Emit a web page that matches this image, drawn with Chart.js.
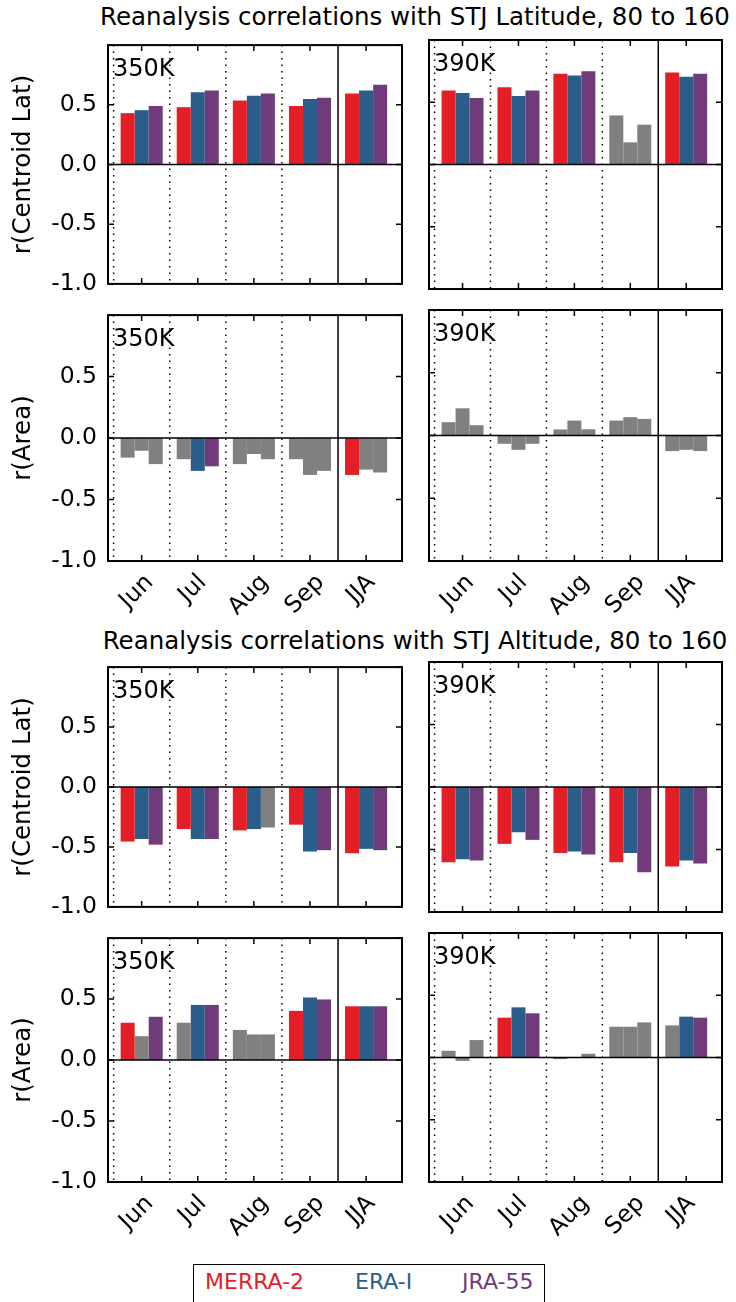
<!DOCTYPE html>
<html>
<head>
<meta charset="utf-8">
<script src="https://cdn.jsdelivr.net/npm/chart.js@4.4.1/dist/chart.umd.min.js"></script>
<style>
  body { margin: 0; width: 736px; height: 1302px; overflow: hidden; background: #fff; position: relative; font-family: "DejaVu Sans", sans-serif; }
  canvas { position: absolute; }
  .figtitle { position: absolute; left: 415px; transform: translateX(-50%); white-space: nowrap; font-size: 24.5px; line-height: 30px; color: #000; }
  #legend { position: absolute; left: 193px; top: 1264px; width: 352px; height: 60px; border: 1.5px solid #000; box-sizing: border-box; }
  .legtext { position: absolute; font-size: 22px; line-height: 26px; top: 1269px; white-space: nowrap; }
</style>
</head>
<body>
<div class="figtitle" style="top:2px">Reanalysis correlations with STJ Latitude, 80 to 160</div>
<div class="figtitle" style="top:626px">Reanalysis correlations with STJ Altitude, 80 to 160</div>
<div id="legend"></div>

<script>
// categories and series
const months = ["Jun", "Jul", "Aug", "Sep", "JJA"];
const names = ["MERRA-2", "ERA-I", "JRA-55"];
const yTickValues = [-1.0, -0.5, 0.0, 0.5];
const yTickLabels = ["-1.0", "-0.5", "0.0", "0.5"];

// STJ latitude, centroid latitude
const latCen350Merra = [0.43, 0.48, 0.535, 0.49, 0.595];
const latCen350Era   = [0.455, 0.605, 0.575, 0.548, 0.62];
const latCen350Jra   = [0.49, 0.62, 0.595, 0.56, 0.667];
const latCen350Sig   = [[1, 1, 1, 1, 1], [1, 1, 1, 1, 1], [1, 1, 1, 1, 1]];

const latCen390Merra = [0.595, 0.62, 0.728, 0.394, 0.738];
const latCen390Era   = [0.575, 0.55, 0.714, 0.178, 0.704];
const latCen390Jra   = [0.535, 0.595, 0.749, 0.32, 0.728];
const latCen390Sig   = [[1, 1, 1, 0, 1], [1, 1, 1, 0, 1], [1, 1, 1, 0, 1]];

// STJ latitude, area
const latArea350Merra = [-0.159, -0.172, -0.212, -0.172, -0.30];
const latArea350Era   = [-0.103, -0.267, -0.13, -0.30, -0.257];
const latArea350Jra   = [-0.212, -0.23, -0.172, -0.267, -0.28];
const latArea350Sig   = [[0, 0, 0, 0, 1], [0, 1, 0, 0, 0], [0, 1, 0, 0, 0]];

const latArea390Merra = [0.106, -0.066, 0.048, 0.119, -0.124];
const latArea390Era   = [0.217, -0.114, 0.119, 0.146, -0.114];
const latArea390Jra   = [0.082, -0.066, 0.05, 0.132, -0.124];
const latArea390Sig   = [[0, 0, 0, 0, 0], [0, 0, 0, 0, 0], [0, 0, 0, 0, 0]];

// STJ altitude, centroid latitude
const altCen350Merra = [-0.455, -0.351, -0.362, -0.314, -0.553];
const altCen350Era   = [-0.434, -0.434, -0.351, -0.537, -0.516];
const altCen350Jra   = [-0.481, -0.434, -0.338, -0.527, -0.527];
const altCen350Sig   = [[1, 1, 1, 1, 1], [1, 1, 1, 1, 1], [1, 1, 0, 1, 1]];

const altCen390Merra = [-0.601, -0.455, -0.527, -0.601, -0.636];
const altCen390Era   = [-0.577, -0.362, -0.516, -0.527, -0.588];
const altCen390Jra   = [-0.588, -0.423, -0.54, -0.681, -0.612];
const altCen390Sig   = [[1, 1, 1, 1, 1], [1, 1, 1, 1, 1], [1, 1, 1, 1, 1]];

// STJ altitude, area
const altArea350Merra = [0.306, 0.306, 0.247, 0.403, 0.441];
const altArea350Era   = [0.196, 0.452, 0.21, 0.513, 0.441];
const altArea350Jra   = [0.355, 0.452, 0.21, 0.497, 0.441];
const altArea350Sig   = [[1, 0, 0, 1, 1], [0, 1, 0, 1, 1], [1, 1, 0, 1, 1]];

const altArea390Merra = [0.054, 0.32, -0.013, 0.247, 0.258];
const altArea390Era   = [-0.027, 0.403, 0.004, 0.247, 0.328];
const altArea390Jra   = [0.14, 0.355, 0.03, 0.282, 0.32];
const altArea390Sig   = [[0, 1, 0, 0, 0], [0, 1, 0, 0, 1], [0, 1, 0, 0, 1]];

const colors = ["#e41e26", "#2b5d8a", "#713b7b"];
const gray = "#808080";
const FONT = '"DejaVu Sans"';
Chart.defaults.font.family = FONT;

// legend
names.forEach((n, k) => {
  const s = document.createElement("span");
  s.className = "legtext";
  s.style.left = [205, 355, 462][k] + "px";
  s.style.color = colors[k];
  s.textContent = n;
  document.body.appendChild(s);
});

const panelDecor = {
  id: "panelDecor",
  beforeDatasetsDraw(chart) {
    const { ctx, chartArea: a, scales: { x } } = chart;
    ctx.save();
    ctx.strokeStyle = "#000";
    ctx.lineWidth = 1.5;
    ctx.setLineDash([1.5, 5]);
    [-0.5, 0.5, 1.5, 2.5].forEach(v => {
      const px = x.getPixelForValue(v);
      ctx.beginPath(); ctx.moveTo(px, a.top); ctx.lineTo(px, a.bottom); ctx.stroke();
    });
    ctx.restore();
  },
  afterDatasetsDraw(chart, args, opts) {
    const { ctx, chartArea: a, scales: { x, y } } = chart;
    ctx.save();
    ctx.strokeStyle = "#000";
    ctx.lineWidth = 1.5;
    // zero line and JJA separator
    const y0 = y.getPixelForValue(0);
    ctx.beginPath(); ctx.moveTo(a.left, y0); ctx.lineTo(a.right, y0); ctx.stroke();
    const xs = x.getPixelForValue(3.5);
    ctx.beginPath(); ctx.moveTo(xs, a.top); ctx.lineTo(xs, a.bottom); ctx.stroke();
    // inward ticks
    const tl = 6;
    months.forEach((m, i) => {
      const px = x.getPixelForValue(i);
      ctx.beginPath();
      ctx.moveTo(px, a.top); ctx.lineTo(px, a.top + tl);
      ctx.moveTo(px, a.bottom); ctx.lineTo(px, a.bottom - tl);
      ctx.stroke();
    });
    [-1, -0.5, 0, 0.5, 1].forEach(v => {
      const py = y.getPixelForValue(v);
      ctx.beginPath();
      ctx.moveTo(a.left, py); ctx.lineTo(a.left + tl, py);
      ctx.moveTo(a.right, py); ctx.lineTo(a.right - tl, py);
      ctx.stroke();
    });
    ctx.lineWidth = 2;
    ctx.strokeRect(a.left, a.top, a.right - a.left, a.bottom - a.top);
    // level label
    ctx.fillStyle = "#000";
    ctx.font = "24px " + FONT;
    ctx.textAlign = "left";
    ctx.textBaseline = "alphabetic";
    ctx.fillText(opts.level, a.left + 5, a.top + 31);
    // rotated month labels
    if (opts.showX) {
      const fs = 23.5;
      ctx.font = fs + "px " + FONT;
      ctx.textAlign = "center";
      ctx.textBaseline = "middle";
      months.forEach((m, i) => {
        const w = ctx.measureText(m).width;
        const cx = x.getPixelForValue(i) - 5;
        const cy = a.bottom + 10 + (w + 0.95 * fs) * 0.7071 / 2;
        ctx.save();
        ctx.translate(cx, cy);
        ctx.rotate(-Math.PI / 4);
        ctx.fillText(m, 0, 0);
        ctx.restore();
      });
    }
    ctx.restore();
  }
};

const rows = [[40, 289], [310, 561], [662, 912], [933, 1182]];

function makePanel(col, row, level, ylabel, series, sig) {
  const showX = row === 1 || row === 3;
  const [top, bottom] = rows[row];
  const isLeft = col === 0;
  const cv = document.createElement("canvas");
  const w = isLeft ? 420 : 326;
  const h = bottom - top + 40 + (showX ? 60 : 0);
  cv.width = w; cv.height = h;
  cv.style.width = w + "px"; cv.style.height = h + "px";
  cv.style.left = (isLeft ? 0 : 410) + "px";
  cv.style.top = (top - 20) + "px";
  document.body.appendChild(cv);

  new Chart(cv, {
    type: "bar",
    data: {
      datasets: names.map((n, k) => ({
        label: n,
        data: months.map((m, i) => ({ x: i, y: series[k][i] })),
        backgroundColor: months.map((m, i) => sig[k][i] ? colors[k] : gray),
        borderWidth: 0,
        categoryPercentage: 0.75,
        barPercentage: 1.0
      }))
    },
    options: {
      responsive: false,
      animation: false,
      layout: { padding: { left: isLeft ? 0 : 19, right: isLeft ? 18 : 14, top: 20, bottom: h - 20 - (bottom - top) } },
      plugins: {
        legend: { display: false },
        tooltip: { enabled: false },
        panelDecor: { level, showX }
      },
      scales: {
        x: {
          type: "linear",
          min: -0.6,
          max: 4.64,
          offset: false,
          display: false,
          afterBuildTicks: s => { s.ticks = months.map((m, i) => ({ value: i })); }
        },
        y: {
          min: -1,
          max: 1,
          display: isLeft,
          afterBuildTicks: s => { s.ticks = yTickValues.map(v => ({ value: v })); },
          ticks: {
            padding: 11,
            color: "#000",
            font: { size: 23.5 },
            callback: v => yTickLabels[yTickValues.indexOf(v)]
          },
          grid: { display: false, drawTicks: false },
          border: { display: false },
          title: {
            display: true,
            text: ylabel,
            color: "#000",
            font: { size: 24.5 },
            padding: { top: 9, bottom: 0 }
          },
          afterFit: s => { if (isLeft) s.width = 108; }
        }
      }
    },
    plugins: [panelDecor]
  });
}

makePanel(0, 0, "350K", "r(Centroid Lat)", [latCen350Merra, latCen350Era, latCen350Jra], latCen350Sig);
makePanel(1, 0, "390K", "r(Centroid Lat)", [latCen390Merra, latCen390Era, latCen390Jra], latCen390Sig);
makePanel(0, 1, "350K", "r(Area)", [latArea350Merra, latArea350Era, latArea350Jra], latArea350Sig);
makePanel(1, 1, "390K", "r(Area)", [latArea390Merra, latArea390Era, latArea390Jra], latArea390Sig);
makePanel(0, 2, "350K", "r(Centroid Lat)", [altCen350Merra, altCen350Era, altCen350Jra], altCen350Sig);
makePanel(1, 2, "390K", "r(Centroid Lat)", [altCen390Merra, altCen390Era, altCen390Jra], altCen390Sig);
makePanel(0, 3, "350K", "r(Area)", [altArea350Merra, altArea350Era, altArea350Jra], altArea350Sig);
makePanel(1, 3, "390K", "r(Area)", [altArea390Merra, altArea390Era, altArea390Jra], altArea390Sig);
</script>
</body>
</html>
